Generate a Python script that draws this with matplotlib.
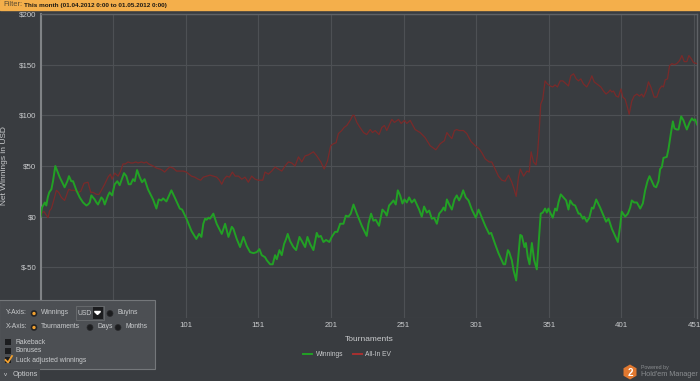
import matplotlib
matplotlib.use('Agg')
import matplotlib.pyplot as plt
from matplotlib.patches import Rectangle, RegularPolygon, Circle, Polygon

plt.rcParams['font.family'] = ['Liberation Sans', 'DejaVu Sans']

# Winnings (green) - tournament number / net winnings in USD
win_t = [1, 2, 4, 5, 6, 7, 8.5, 9.6, 11.2, 14.2, 17.6, 19.5, 20.6, 22.2, 23.4, 25.7, 28, 30.3,
         32.6, 33.7, 34.9, 36, 37.2, 38.3, 39.5, 40.6, 42.9, 44.1, 45.2, 47.5, 48.6, 50.3, 52.1,
         53.9, 55.5, 58.5, 60.1, 61.7, 63.1, 64.7, 65.9, 67.5, 69.3, 70.9, 72.7, 75, 78.5, 80.8,
         82.4, 84.2, 85.4, 87.7, 91.1, 93.4, 96.9, 98.5, 101.5, 104.9, 108.3, 110.2, 111.8, 113.1,
         114.3, 115.4, 116.6, 117.7, 120, 122.3, 125.8, 128.1, 130.4, 132.7, 133.8, 136.1, 138.4,
         140.7, 143, 145.3, 147.6, 149.9, 151.7, 153.3, 155.6, 156.8, 159.1, 160.9, 162.5, 163.7,
         165.5, 167.1, 168.7, 170.1, 171.2, 172.8, 175.1, 177, 179.3, 180.9, 183.2, 184.8, 186.6,
         188.9, 191.2, 192.4, 194, 195.8, 197.6, 199.9, 201.5, 203.8, 205.4, 207.3, 209.6, 211.2,
         213, 214.6, 216.5, 218.8, 222.2, 225.6, 226.8, 228.6, 230.2, 231.8, 234.1, 236.4, 238.3,
         239.4, 241, 242.9, 244, 245.6, 247, 248.6, 250.2, 251.6, 253.2, 254.8, 256.6, 258.5,
         260.1, 261.7, 263.5, 265.1, 267, 268.6, 270.4, 272, 273.9, 275.5, 277.3, 278.5, 279.6,
         280.8, 282.4, 284.2, 286, 287.6, 289.2, 290.6, 292, 293.8, 295.7, 298, 300.7, 302.6,
         304.9, 307.2, 309.9, 311.3, 314, 316.3, 319.8, 320.9, 322.8, 323.7, 325.5, 326.7, 328.5,
         330.1, 331.3, 332.4, 334.2, 335.2, 336.5, 337.7, 339.3, 340.9, 342.7, 343.8, 345.4,
         346.8, 348.4, 349.6, 350.7, 351.9, 353.7, 355.3, 356.5, 357.6, 359.2, 361.1, 362.9,
         364.5, 365.7, 367.5, 369.1, 371.4, 372.5, 374.4, 375.3, 377.1, 378.9, 380.6, 381.7,
         383.6, 386.3, 388.6, 390.4, 392.1, 394.4, 396.6, 398.5, 400.1, 401.2, 403.5, 405.4, 407,
         408.1, 409.7, 411.6, 413.9, 415.7, 417.3, 418.9, 420.3, 421.9, 423.5, 424.9, 426.5,
         427.6, 428.8, 429.9, 432.2, 433.4, 435, 436.4, 437.5, 439.1, 440.3, 442.1, 443.7, 444.9,
         446, 447.9, 449.5, 450.6, 451.7, 453]
win_v = [0, 9, 14, 11, 19, 24, 27, 35, 50, 39, 29, 35, 40, 35, 35, 26, 19, 14,
         11, 12, 14, 21, 19, 17, 14, 12, 19, 17, 12, 21, 24, 21, 32,
         35, 31, 43, 40, 32, 32, 37, 35, 46, 39, 34, 37, 27, 17, 8,
         17, 16, 18, 15, 26, 19, 8, 7, -2, -14, -22, -17, -20, -7,
         -2, -3, -1, -2, 3, -7, -17, -7, -20, -10, -12, -22, -30,
         -20, -29, -35, -36, -35, -32, -38, -40, -43, -47, -47, -38, -42,
         -33, -38, -27, -22, -17, -24, -30, -33, -20, -24, -30, -20, -27,
         -33, -16, -20, -19, -25, -23, -25, -20, -15, -15, -7, -7, 1,
         0, 3, 12, 3, -9, -19, -7, 3, -4, -3, -9, 7, 4,
         1, 11, 14, 16, 12, 26, 21, 13, 17, 14, 19, 14, 17,
         12, 7, 0, 10, 4, 6, -2, -1, -7, 3, 6, 9, 6,
         17, 12, 7, 17, 21, 16, 20, 26, 19, 16, 7, -1, 7,
         -1, -9, -17, -16, -27, -36, -47, -47, -33, -35, -43, -53, -63,
         -37, -18, -19, -30, -26, -40, -47, -26, -43, -52, -30, 3,
         4, 8, 4, 8, 4, -1, 8, 6, 14, 22, 19, 16,
         7, 16, 12, 11, 3, 3, -2, 0, -5, -1, 9, 8,
         17, 9, 1, -5, -2, -12, -19, -25, -9, 5, 0, 3, 9,
         16, 14, 14, 8, 13, 26, 35, 40, 35, 30, 29, 35,
         47, 49, 58, 59, 67, 82, 94, 87, 86, 86, 99, 95, 90,
         86, 93, 97, 95, 96, 91]

# All-in EV (red)
ev_t = [1, 2, 3.4, 4.3, 6.2, 7.3, 8.5, 10.3, 11.9, 13.5, 15.4, 17.6, 20.4, 22.2, 24.5, 26.8,
        28.7, 31, 33.7, 35.6, 37.2, 39.5, 41.3, 42.9, 45.2, 47.5, 49.1, 50.3, 52.1, 54.4, 56.2,
        57.8, 59.4, 61.3, 63.1, 64.7, 66.6, 68.2, 70.5, 72.3, 73.9, 75.5, 78.5, 80.8, 83.1, 84.7,
        86.5, 88.4, 90, 92.3, 94.6, 96.9, 99.2, 101.5, 104.9, 107.2, 109.5, 111.3, 113.1, 115.4,
        117.7, 120, 122.3, 124.2, 125.8, 127.4, 129.2, 131.1, 133.1, 135, 137.3, 139.6, 141.8,
        144.1, 146.4, 148.7, 151, 154, 155.6, 157.9, 160.2, 162.5, 164.8, 167.1, 169.4, 171.7,
        174, 176.3, 178.6, 180.9, 183.2, 185.5, 188.9, 191.2, 194, 196.3, 198.6, 200.8, 202.7,
        204.5, 206.1, 208.4, 210, 211.9, 214.2, 216, 216.9, 218.8, 221, 223.4, 225.6, 228,
        229.6, 231.4, 234.1, 236, 237.8, 239.4, 241, 242.9, 244.7, 247.5, 249.3, 251.6, 253.2,
        255.5, 258.9, 262.4, 265.8, 269.3, 273.2, 276.2, 279.1, 280.8, 282.4, 284.2, 286,
        287.6, 289.2, 292.2, 294.5, 297.5, 300.3, 303, 304.9, 307.2, 309.9, 311.7, 314, 316.3,
        318.6, 320.9, 323.2, 325.5, 327.1, 328.5, 330.1, 331.3, 333.6, 335.9, 337.5, 338.8,
        340.4, 342.2, 343.2, 344.5, 345.4, 346.8, 348.4, 350, 351.9, 353.7, 355.3, 356.9,
        358.8, 360.6, 362.2, 364.5, 366.1, 368, 369.8, 371.4, 373, 374.8, 377.1, 379, 380.6,
        382.2, 384, 386.8, 388.6, 390.4, 392.1, 393.2, 394.4, 395.5, 397.3, 398.9, 400.6,
        401.9, 403.5, 405.1, 406.3, 408.1, 409.7, 411.6, 413.4, 415, 416.2, 418, 419.6, 421.2,
        423.5, 425.3, 427.2, 428.8, 429.9, 431.1, 432.7, 434.1, 435.7, 437.3, 439.1, 441,
        442.6, 444.2, 446, 447.4, 449, 450.6, 453]
ev_v = [0, 4, 5, 3, -1, 6, 8, 17, 26, 24, 19, 16, 27, 26, 26, 24,
        25, 33, 34, 24, 24, 22, 22, 26, 32, 39, 42, 37, 43, 40, 45,
        52, 52, 54, 53, 53, 54, 53, 54, 53, 54, 52, 50, 48, 47, 46,
        44, 47, 49, 48, 45, 45, 45, 44, 40, 39, 37, 36, 39, 40,
        41, 40, 39, 36, 32, 37, 40, 39, 44, 40, 40, 37, 39,
        34, 40, 37, 36, 36, 44, 42, 45, 49, 47, 45, 50, 54,
        53, 50, 59, 54, 60, 61, 64, 60, 54, 47, 55, 70, 72,
        73, 82, 85, 88, 90, 95, 100, 100, 93, 88, 83, 81, 86,
        83, 85, 81, 88, 90, 85, 90, 96, 93, 96, 92, 95, 92,
        95, 86, 83, 78, 70, 66, 72, 75, 83, 80, 77, 85,
        86, 85, 85, 82, 74, 70, 67, 63, 57, 54, 54, 47, 40,
        36, 35, 41, 34, 27, 20, 39, 47, 40, 45, 44, 64,
        54, 51, 62, 88, 111, 116, 134, 131, 129, 128, 130, 128,
        134, 134, 132, 129, 139, 141, 136, 134, 136, 131, 128, 133, 139,
        133, 131, 128, 124, 121, 123, 125, 123, 124, 119, 118, 126,
        118, 116, 108, 101, 114, 119, 121, 119, 121, 118, 124, 133, 128,
        118, 118, 126, 129, 128, 135, 136, 149, 151, 150, 151, 154,
        159, 153, 153, 159, 156, 152, 151]

# labels for 1, 51 and $-100 sit under the options panel in the original
x_ticks = [1, 51, 101, 151, 201, 251, 301, 351, 401, 451]
x_labels = ['', '', '101', '151', '201', '251', '301', '351', '401', '451']
y_ticks = [-100, -50, 0, 50, 100, 150, 200]
y_labels = ['', '$-50', '$0', '$50', '$100', '$150', '$200']

BG = '#393c40'
GRID = '#4d5054'
TXT = '#c9cbcd'

W, H = 700, 381
fig = plt.figure(figsize=(7, 3.81), dpi=100, facecolor=BG)

# main chart
ax = fig.add_axes([40.5 / W, 1 - 318 / H, (697 - 40.5) / W, (318 - 14) / H])
ax.set_facecolor(BG)
ax.plot(ev_t, ev_v, color='#7a2a2a', lw=0.9, zorder=3)
ax.plot(win_t, win_v, color='#22a125', lw=1.4, zorder=4)
ax.set_xlim(1, 453)
ax.set_ylim(-100, 200)
ax.set_xticks(x_ticks)
ax.set_xticklabels(x_labels)
ax.set_yticks(y_ticks)
ax.set_yticklabels(y_labels)
ax.grid(True, color=GRID, lw=0.8)
ax.set_axisbelow(True)
ax.tick_params(colors=TXT, labelsize=5.7, length=0, pad=3)
for s in ax.spines.values():
    s.set_color('#5f6266')
    s.set_linewidth(1.0)
ax.spines['left'].set_color('#808386')
ax.spines['left'].set_linewidth(1.5)
ax.spines['bottom'].set_visible(False)
ax.set_xlabel('Tournaments', color=TXT, fontsize=6)
ax.set_ylabel('Net Winnings in USD', color=TXT, fontsize=6)
ax.xaxis.set_label_coords(0.5, -0.06)
ax.yaxis.set_label_coords(-0.05, 0.5)

# overlay in pixel coords for the ui parts
ov = fig.add_axes([0, 0, 1, 1], zorder=10)
ov.set_xlim(0, W)
ov.set_ylim(H, 0)
ov.axis('off')
ov.patch.set_alpha(0)

# filter bar
ov.add_patch(Rectangle((0, 0), W, 9.5, color='#f4af4b'))
ov.text(3, 5, 'Filter:', fontsize=5.4, color='#5a4a30', va='center')
ov.text(24, 5, 'This month (01.04.2012 0:00 to 01.05.2012 0:00)', fontsize=4.6,
        color='#1e1a14', va='center', fontweight='bold')

# legend
ov.plot([303, 312], [354, 354], color='#22a125', lw=1.4)
ov.text(316, 354.5, 'Winnings', fontsize=4.8, color=TXT, va='center')
ov.plot([353, 362], [354, 354], color='#a83030', lw=1.4)
ov.text(365, 354.5, 'All-In EV', fontsize=4.8, color=TXT, va='center')

# options panel
ov.add_patch(Rectangle((-1, 299.5), 156, 69, facecolor='#4c4f53', edgecolor='#74777a', lw=0.8))
ov.add_patch(Rectangle((-1, 368.5), 41, 14, facecolor='#46494d', edgecolor='none'))
ov.text(4, 375, 'v', fontsize=4.5, color=TXT, va='center')
ov.text(13, 375, 'Options', fontsize=5.3, color=TXT, va='center')


def radio(x, y, on):
    ov.add_patch(Circle((x, y), 3, facecolor='#1c1d1f', edgecolor='#2a2b2d', lw=0.5))
    if on:
        ov.add_patch(Circle((x, y), 1.7, facecolor='#f0a030', edgecolor='none'))


FS = 4.9
ov.text(6, 313, 'Y-Axis:', fontsize=FS, color=TXT, va='center')
radio(34, 313.5, True)
ov.text(41, 313, 'Winnings', fontsize=FS, color=TXT, va='center')
ov.add_patch(Rectangle((75.5, 306), 28, 14, facecolor='#4c4f53', edgecolor='#6a6d70', lw=0.6))
ov.text(77, 313.5, 'USD', fontsize=FS, color=TXT, va='center')
ov.add_patch(Rectangle((92.5, 307), 10, 12, facecolor='#1c1d1f', edgecolor='none'))
ov.add_patch(Polygon([(94.5, 311.5), (100.5, 311.5), (97.5, 314.5)], color='white'))
radio(110, 313.5, False)
ov.text(117, 313, 'Buyins', fontsize=FS, color=TXT, va='center')

ov.text(6, 327, 'X-Axis:', fontsize=FS, color=TXT, va='center')
radio(34, 327.5, True)
ov.text(41, 327, 'Tournaments', fontsize=FS, color=TXT, va='center')
radio(90, 327.5, False)
ov.text(97, 327, 'Days', fontsize=FS, color=TXT, va='center')
radio(118, 327.5, False)
ov.text(126, 327, 'Months', fontsize=FS, color=TXT, va='center')

for yy, lab, chk in [(342, 'Rakeback', False), (351, 'Bonuses', False),
                     (360, 'Luck adjusted winnings', True)]:
    ov.add_patch(Rectangle((5, yy - 3), 6, 6, facecolor='#1c1d1f', edgecolor='none'))
    if chk:
        ov.plot([5.5, 8, 12], [yy, yy + 2.5, yy - 4], color='#f0a030', lw=1.3)
    ov.text(16, yy, lab, fontsize=FS, color=TXT, va='center')

# logo
ov.add_patch(RegularPolygon((630, 372), 6, radius=7.5, facecolor='#e07830', edgecolor='none'))
ov.text(630, 372.5, '2', fontsize=7, color='white', ha='center', va='center', fontweight='bold')
ov.text(641, 367, 'Powered by', fontsize=3.8, color='#8a8d90', va='center')
ov.text(641, 375, "Hold'em Manager", fontsize=5.2, color='#8a8d90', va='center')

fig.savefig('out.png', dpi=100, facecolor=BG)
